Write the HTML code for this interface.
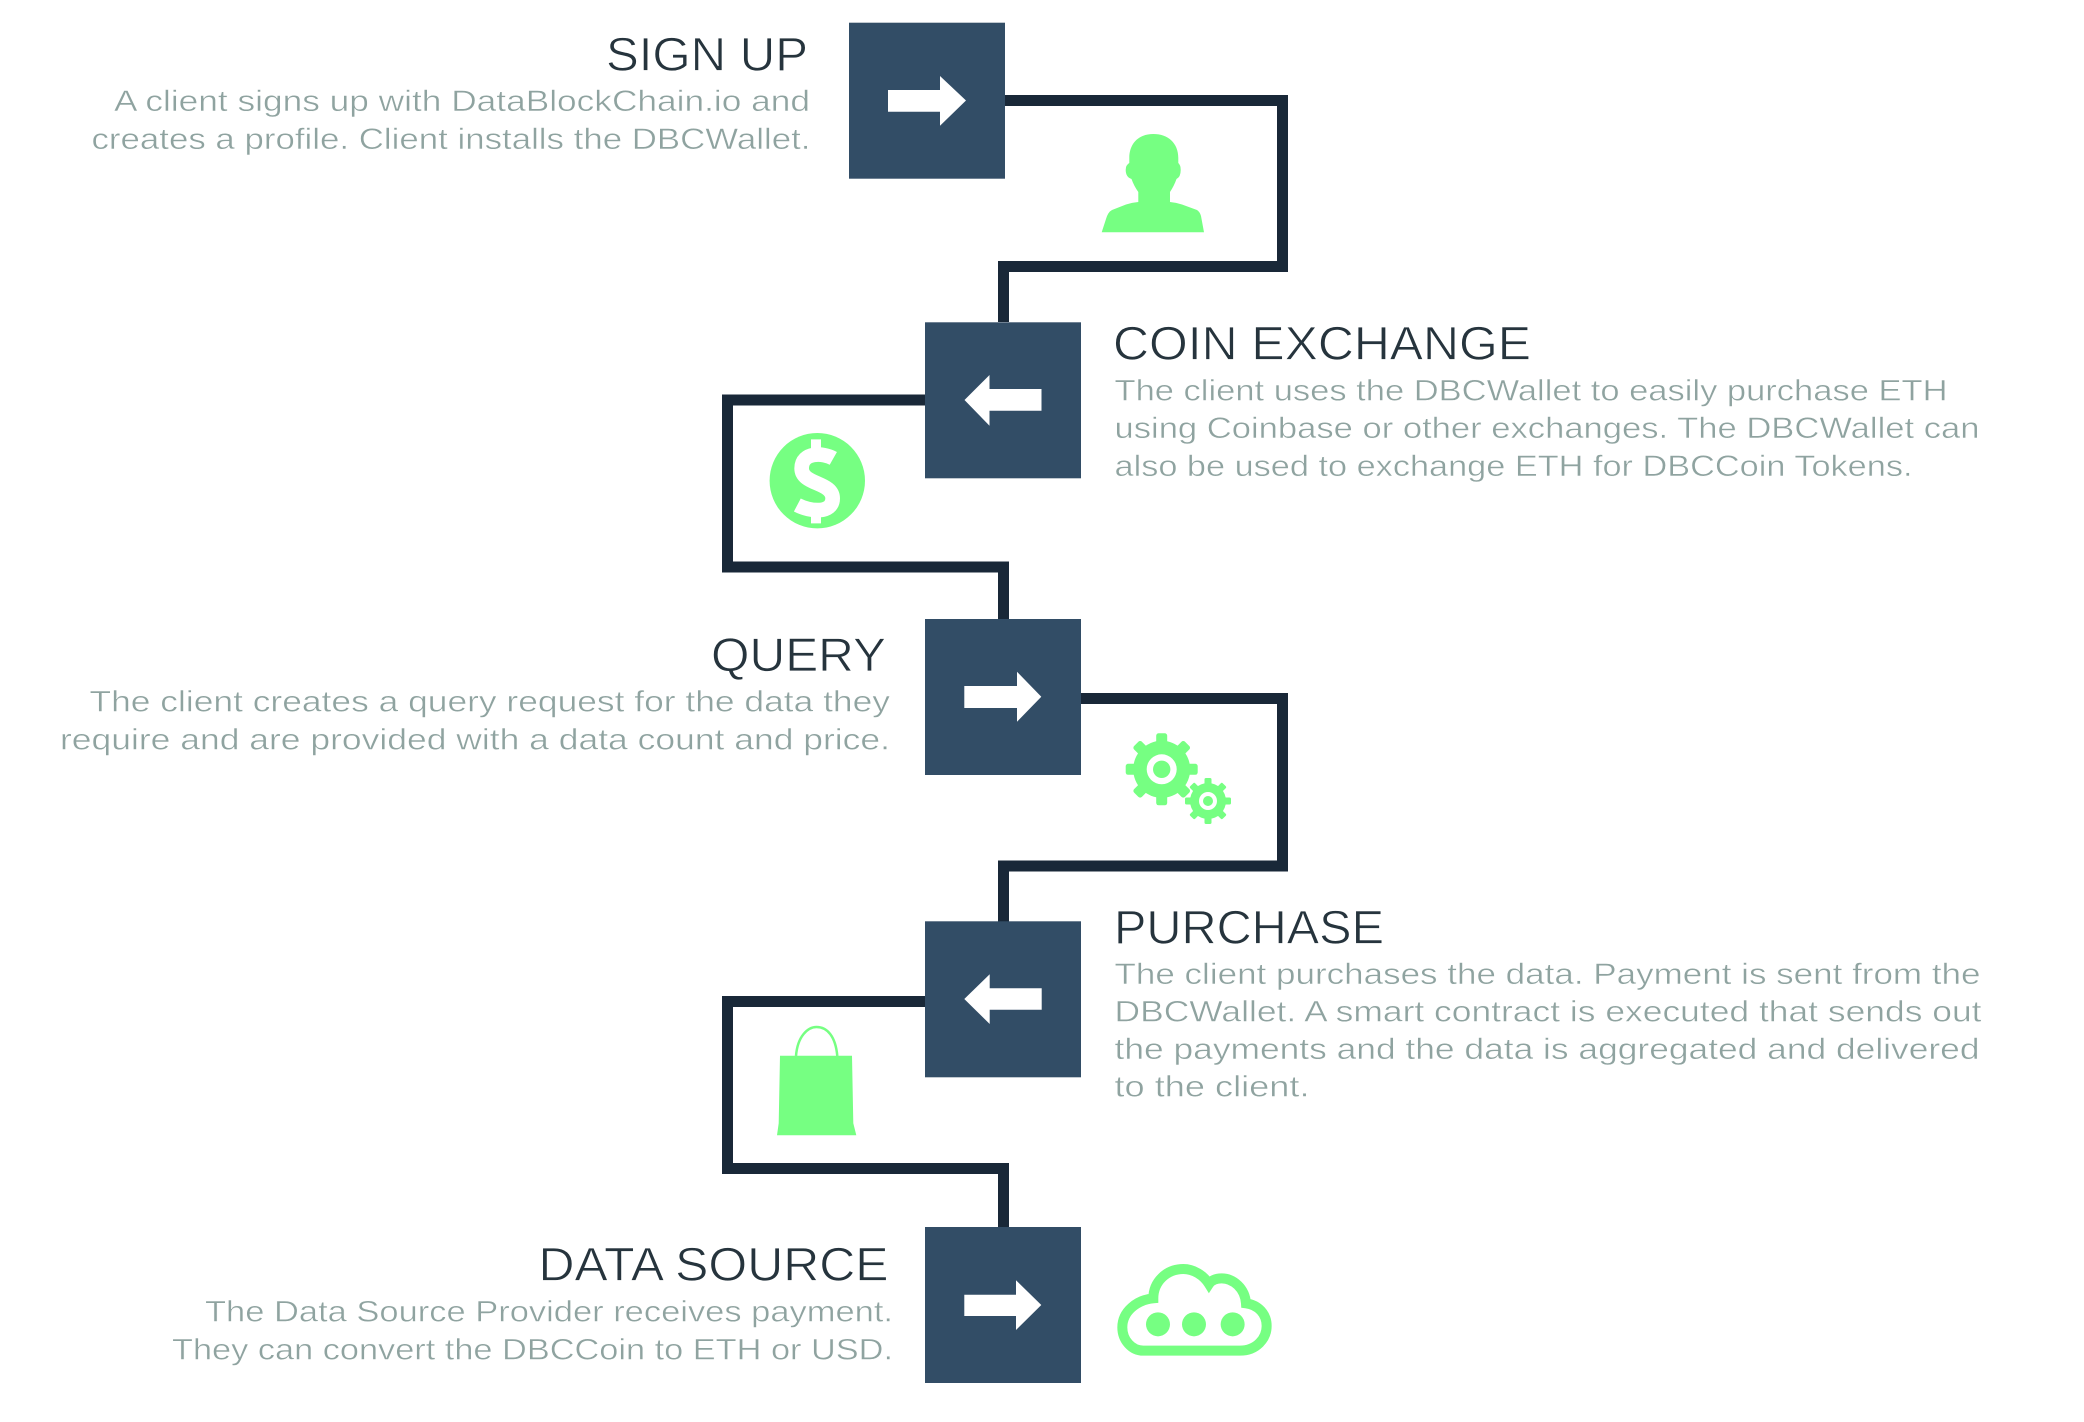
<!DOCTYPE html>
<html><head><meta charset="utf-8"><style>
html,body{margin:0;padding:0;background:#fff;width:2084px;height:1422px;overflow:hidden}
svg{display:block}
text{font-family:"Liberation Sans",sans-serif}
.t{font-size:47px;fill:#26343d;stroke:#fff;stroke-width:.8px}
.b{font-size:30px;fill:#8fa3a0;stroke:#fff;stroke-width:.45px}
</style></head><body>
<svg width="2084" height="1422" viewBox="0 0 2084 1422" xmlns="http://www.w3.org/2000/svg">
<rect width="2084" height="1422" fill="#fff"/>
<g fill="none" stroke="#192838" stroke-width="11" stroke-linejoin="miter">
<path d="M1005 100.500H1282.500V266.500H1003.500V322"/>
<path d="M925 400H727.500V567H1003.500V619"/>
<path d="M1081 698.500H1282.500V866H1003.500V921.500"/>
<path d="M925 1001.500H727.500V1168.500H1003.500V1227"/>
</g>
<g fill="#324d66">
<rect x="849" y="22.700" width="156" height="156"/>
<rect x="925" y="322.300" width="156" height="156"/>
<rect x="925" y="619" width="156" height="156"/>
<rect x="925" y="921.300" width="156" height="156"/>
<rect x="925" y="1227" width="156" height="156"/>
</g>
<g fill="#fff">
<polygon points="888,90 940,90 940,76 966,100.500 940,125.700 940,111.700 888,111.700"/>
<polygon points="1041.500,389 989.500,389 989.500,375 964.500,400 989.500,425.700 989.500,410.700 1041.500,410.700"/>
<polygon points="964.300,686 1017,686 1017,671.700 1041.300,696.700 1017,721.700 1017,708 964.300,708"/>
<polygon points="1041.700,988.300 989.700,988.300 989.700,974.300 964.300,999 989.700,1024 989.700,1009.700 1041.700,1009.700"/>
<polygon points="964.300,1294.700 1016,1294.700 1016,1280.300 1041.300,1305 1016,1330 1016,1316 964.300,1316"/>
</g>
<g fill="#76ff82">
<!-- person -->
<path d="M1101.700 232.300L1106 219Q1108 212 1112 210L1126 204.500Q1132 202.500 1138.300 202V192Q1134 186 1131.500 179Q1125.700 177 1125.700 170Q1125.700 165 1129.300 163V158C1129.300 143 1139 134 1153.300 134C1168 134 1178.300 143 1178.300 158V163Q1180.700 165 1180.700 170Q1180.700 177 1176.500 179Q1174 186 1170 192V202Q1176 202.500 1182 204.500L1197 210Q1200 212 1201 216L1204 232.300Z"/>
<!-- dollar coin -->
<circle cx="817.300" cy="480.700" r="47.700"/>
<!-- bag -->
<path d="M780 1055.700H852L853.300 1123.300L856.300 1135.300H777L778.700 1123.300Z"/>
<!-- gears -->
<g transform="translate(1161.700 769.300)">
<circle r="28.500"/>
<rect x="-5.500" y="-36" width="11" height="72" rx="2.500"/>
<rect x="-5.500" y="-36" width="11" height="72" rx="2.500" transform="rotate(45)"/>
<rect x="-5.500" y="-36" width="11" height="72" rx="2.500" transform="rotate(90)"/>
<rect x="-5.500" y="-36" width="11" height="72" rx="2.500" transform="rotate(135)"/>
</g>
<g transform="translate(1208 801)">
<circle r="18"/>
<rect x="-3.500" y="-23" width="7" height="46" rx="1.500"/>
<rect x="-3.500" y="-23" width="7" height="46" rx="1.500" transform="rotate(45)"/>
<rect x="-3.500" y="-23" width="7" height="46" rx="1.500" transform="rotate(90)"/>
<rect x="-3.500" y="-23" width="7" height="46" rx="1.500" transform="rotate(135)"/>
</g>
<circle cx="1161.700" cy="769.300" r="15" fill="#fff"/>
<circle cx="1161.700" cy="769.300" r="8.700"/>
<circle cx="1208" cy="801" r="9" fill="#fff"/>
<circle cx="1208" cy="801" r="5"/>
</g>
<!-- dollar sign -->
<g transform="translate(740 410) scale(.3333)" fill="none" stroke="#fff">
<path d="M228 88V125M228 305V340" stroke-width="30"/>
<path d="M280 145C250 128 185 125 185 175C185 225 278 215 278 265C278 312 210 305 172 285" stroke-width="44"/>
</g>
<!-- bag handle -->
<path d="M796 1056C797.500 1036 808 1027 816.500 1027C827 1027 835.500 1036 837.300 1056" fill="none" stroke="#76ff82" stroke-width="2.500"/>
<!-- cloud -->
<g transform="translate(1060 1240) scale(.3333)">
<path d="M250 332H540C590 332 620 295 620 258C620 222 595 195 558 190C555 145 520 115 485 115C470 115 455 120 447 132C430 105 400 87 370 87C320 87 280 125 280 175C230 180 187 215 187 262C187 300 215 332 250 332Z" fill="none" stroke="#76ff82" stroke-width="30"/>
<g fill="#76ff82"><circle cx="294" cy="253" r="36"/><circle cx="402" cy="253" r="36"/><circle cx="518" cy="253" r="36"/></g>
</g>
<!-- text -->
<text class="t" x="606" y="70.700" textLength="202" lengthAdjust="spacingAndGlyphs">SIGN UP</text>
<text class="b" x="114" y="111" textLength="696" lengthAdjust="spacingAndGlyphs">A client signs up with DataBlockChain.io and</text>
<text class="b" x="91.500" y="149" textLength="719" lengthAdjust="spacingAndGlyphs">creates a profile. Client installs the DBCWallet.</text>
<text class="t" x="1113" y="359.300" textLength="418" lengthAdjust="spacingAndGlyphs">COIN EXCHANGE</text>
<text class="b" x="1114.500" y="400.700" textLength="833" lengthAdjust="spacingAndGlyphs">The client uses the DBCWallet to easily purchase ETH</text>
<text class="b" x="1114.500" y="438" textLength="865" lengthAdjust="spacingAndGlyphs">using Coinbase or other exchanges. The DBCWallet can</text>
<text class="b" x="1114.500" y="476" textLength="798" lengthAdjust="spacingAndGlyphs">also be used to exchange ETH for DBCCoin Tokens.</text>
<text class="t" x="711" y="671" textLength="175" lengthAdjust="spacingAndGlyphs">QUERY</text>
<text class="b" x="89.500" y="711.700" textLength="800.500" lengthAdjust="spacingAndGlyphs">The client creates a query request for the data they</text>
<text class="b" x="60" y="749.700" textLength="830" lengthAdjust="spacingAndGlyphs">require and are provided with a data count and price.</text>
<text class="t" x="1114" y="943.300" textLength="270" lengthAdjust="spacingAndGlyphs">PURCHASE</text>
<text class="b" x="1114.500" y="984" textLength="866" lengthAdjust="spacingAndGlyphs">The client purchases the data. Payment is sent from the</text>
<text class="b" x="1114.500" y="1021.700" textLength="867" lengthAdjust="spacingAndGlyphs">DBCWallet. A smart contract is executed that sends out</text>
<text class="b" x="1114.500" y="1059" textLength="865" lengthAdjust="spacingAndGlyphs">the payments and the data is aggregated and delivered</text>
<text class="b" x="1114.500" y="1096.700" textLength="195" lengthAdjust="spacingAndGlyphs">to the client.</text>
<text class="t" x="538.500" y="1280.700" textLength="350" lengthAdjust="spacingAndGlyphs">DATA SOURCE</text>
<text class="b" x="205" y="1321.700" textLength="688" lengthAdjust="spacingAndGlyphs">The Data Source Provider receives payment.</text>
<text class="b" x="172" y="1359.300" textLength="721" lengthAdjust="spacingAndGlyphs">They can convert the DBCCoin to ETH or USD.</text>
</svg>
</body></html>
